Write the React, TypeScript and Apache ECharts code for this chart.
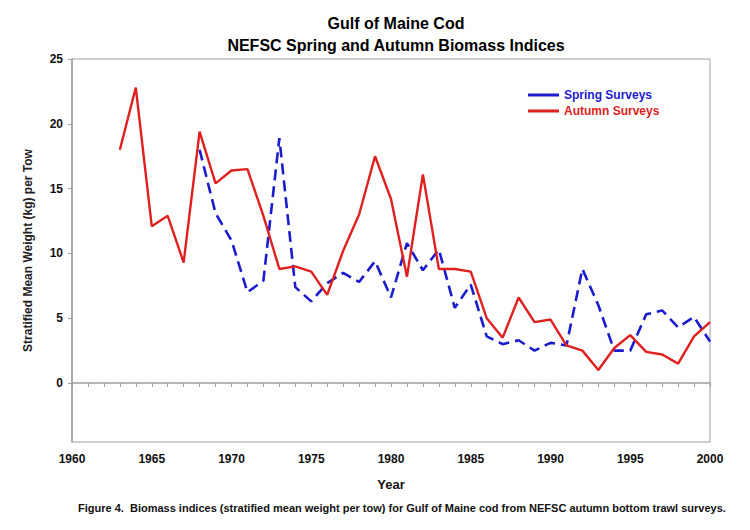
import React, { useEffect, useRef } from "react";
import * as echarts from "echarts";

const springYears = [1968, 1969, 1970, 1971, 1972, 1973, 1974, 1975, 1976, 1977, 1978, 1979, 1980, 1981, 1982, 1983, 1984, 1985, 1986, 1987, 1988, 1989, 1990, 1991, 1992, 1993, 1994, 1995, 1996, 1997, 1998, 1999, 2000];
const springValues = [18.0, 13.1, 11.0, 7.0, 7.9, 18.9, 7.4, 6.3, 7.7, 8.5, 7.8, 9.4, 6.6, 10.8, 8.7, 10.3, 5.8, 7.6, 3.6, 3.0, 3.3, 2.5, 3.1, 2.9, 8.8, 6.0, 2.5, 2.5, 5.3, 5.6, 4.3, 5.1, 3.2];

const autumnYears = [1963, 1964, 1965, 1966, 1967, 1968, 1969, 1970, 1971, 1972, 1973, 1974, 1975, 1976, 1977, 1978, 1979, 1980, 1981, 1982, 1983, 1984, 1985, 1986, 1987, 1988, 1989, 1990, 1991, 1992, 1993, 1994, 1995, 1996, 1997, 1998, 1999, 2000];
const autumnValues = [18.0, 22.8, 12.1, 12.9, 9.3, 19.4, 15.4, 16.4, 16.5, 12.9, 8.8, 9.0, 8.6, 6.8, 10.2, 13.0, 17.5, 14.2, 8.2, 16.1, 8.8, 8.8, 8.6, 5.0, 3.5, 6.6, 4.7, 4.9, 2.9, 2.5, 1.0, 2.7, 3.7, 2.4, 2.2, 1.5, 3.6, 4.7];

const yTickValues = [0, 5, 10, 15, 20, 25];

const titleLines = ["Gulf of Maine Cod", "NEFSC Spring and Autumn Biomass Indices"];
const caption = "Figure 4.  Biomass indices (stratified mean weight per tow) for Gulf of Maine cod from NEFSC autumn bottom trawl surveys.";

const FONT = "Liberation Sans, Arial, sans-serif";
const AXIS_COLOR = "#a39aa6";
const BLUE = "#1c1ccf";
const RED = "#e01f1f";

export default function App() {
  const ref = useRef<HTMLDivElement>(null);

  useEffect(() => {
    if (!ref.current) return;
    const chart = echarts.init(ref.current, undefined, { renderer: "svg" });
    const spring = springYears.map((y, i) => [y, springValues[i]]);
    const autumn = autumnYears.map((y, i) => [y, autumnValues[i]]);

    chart.setOption({
      animation: false,
      backgroundColor: "#ffffff",
      title: {
        text: titleLines.join("\n"),
        left: 391,
        textAlign: "center",
        top: 7,
        textStyle: {
          fontFamily: FONT,
          fontWeight: "bold",
          fontSize: 16,
          lineHeight: 22,
          color: "#000",
        },
      },
      legend: {
        orient: "vertical",
        left: 523,
        top: 84,
        itemWidth: 31,
        itemHeight: 3,
        itemGap: 4,
        icon: "rect",
        data: [
          { name: "Spring Surveys", textStyle: { color: BLUE } },
          { name: "Autumn Surveys", textStyle: { color: RED } },
        ],
        textStyle: { fontFamily: FONT, fontWeight: "bold", fontSize: 12, lineHeight: 12 },
      },
      grid: {
        left: 72,
        right: 40,
        top: 59,
        bottom: 88,
        show: true,
        borderColor: AXIS_COLOR,
        borderWidth: 1,
        backgroundColor: "transparent",
      },
      xAxis: {
        type: "value",
        min: 1960,
        max: 2000,
        interval: 5,
        name: "Year",
        nameLocation: "middle",
        nameGap: 36,
        nameTextStyle: { fontFamily: FONT, fontWeight: "bold", fontSize: 13, color: "#111" },
        axisLine: { show: true, lineStyle: { color: AXIS_COLOR, width: 1.5 } },
        axisTick: { show: true, length: 4, lineStyle: { color: AXIS_COLOR } },
        minorTick: { show: true, splitNumber: 5, length: 4, lineStyle: { color: AXIS_COLOR } },
        splitLine: { show: false },
        axisLabel: {
          fontFamily: FONT,
          fontWeight: "bold",
          fontSize: 12,
          color: "#111",
          margin: 11,
          formatter: (v: number) => String(v),
        },
      },
      yAxis: {
        type: "value",
        min: -4.55,
        max: 25,
        name: "Stratified Mean Weight (kg) per Tow",
        nameLocation: "middle",
        nameGap: 38,
        nameTextStyle: { fontFamily: FONT, fontWeight: "bold", fontSize: 12, color: "#222" },
        axisLine: { show: true, lineStyle: { color: AXIS_COLOR, width: 1.5 } },
        axisTick: { show: true, length: 4, customValues: yTickValues, lineStyle: { color: AXIS_COLOR } },
        splitLine: { show: false },
        axisLabel: {
          fontFamily: FONT,
          fontWeight: "bold",
          fontSize: 12,
          color: "#111",
          margin: 9,
          customValues: yTickValues,
        },
      },
      series: [
        {
          name: "Spring Surveys",
          type: "line",
          data: spring,
          symbol: "none",
          lineStyle: { color: BLUE, width: 2.6, type: [11, 6] },
          itemStyle: { color: BLUE },
        },
        {
          name: "Autumn Surveys",
          type: "line",
          data: autumn,
          symbol: "none",
          lineStyle: { color: RED, width: 2.4, type: "solid" },
          itemStyle: { color: RED },
        },
      ],
      graphic: [
        {
          type: "text",
          left: 78,
          top: 502,
          style: {
            text: caption,
            font: `bold 11px ${FONT}`,
            fill: "#111",
          },
        },
      ],
    });

    return () => chart.dispose();
  }, []);

  return (
    <div
      ref={ref}
      style={{ position: "fixed", left: 0, top: 0, width: 750, height: 530, background: "#fff" }}
    />
  );
}
